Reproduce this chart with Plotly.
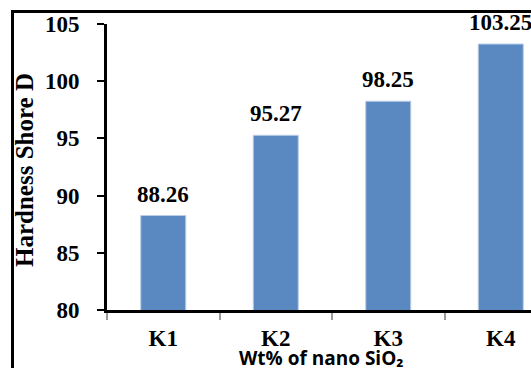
import plotly.graph_objects as go

# Hardness (Shore D) of samples K1–K4 with increasing nano SiO2 content
samples = ["K1", "K2", "K3", "K4"]
hardness = [88.26, 95.27, 98.25, 103.25]
y_ticks = [80, 85, 90, 95, 100, 105]

W, H = 531, 368
ML, MR, MT, MB = 107, 0, 24, 58
plot_w = W - ML - MR
plot_h = H - MT - MB


def px_to_paper_x(px):
    return (px - ML) / plot_w


def px_to_paper_y(py):
    return (H - MB - py) / plot_h


serif = "Liberation Serif, Times New Roman, serif"
bar_blue = "#5a89c2"

fig = go.Figure()
fig.add_trace(go.Bar(
    x=samples,
    y=hardness,
    width=0.4,
    marker=dict(color=bar_blue, line=dict(color="#b9cde6", width=1)),
    hoverinfo="x+y",
))

# value labels above each bar
for s, v in zip(samples, hardness):
    fig.add_annotation(
        x=s, y=v, text=f"<b>{v:.2f}</b>", showarrow=False,
        yanchor="bottom", yshift=7,
        font=dict(family=serif, size=23, color="black"),
    )

# axis titles
fig.add_annotation(
    xref="paper", yref="paper",
    x=px_to_paper_x(321), y=px_to_paper_y(358),
    text="<b>Wt% of nano SiO₂</b>", showarrow=False,
    xanchor="center", yanchor="middle",
    font=dict(family="Open Sans, sans-serif", size=19, color="black"),
)
fig.add_annotation(
    xref="paper", yref="paper",
    x=px_to_paper_x(25), y=px_to_paper_y(170),
    text="<b>Hardness Shore D</b>", showarrow=False, textangle=-90,
    xanchor="center", yanchor="middle",
    font=dict(family=serif, size=25, color="black"),
)

# outer frame around the chart
fig.add_shape(
    type="rect", xref="paper", yref="paper",
    x0=px_to_paper_x(12.5), x1=px_to_paper_x(W + 40),
    y0=px_to_paper_y(H + 40), y1=px_to_paper_y(11.5),
    line=dict(color="black", width=3), fillcolor="rgba(0,0,0,0)",
    layer="above",
)

fig.update_layout(
    width=W, height=H,
    margin=dict(l=ML, r=MR, t=MT, b=MB, pad=0),
    paper_bgcolor="white", plot_bgcolor="white",
    showlegend=False,
    xaxis=dict(
        range=[-0.5, -0.5 + plot_w / 112.5],
        showline=True, linecolor="black", linewidth=3,
        ticks="outside", tickson="boundaries", ticklen=7, tickwidth=2,
        tickcolor="#9a9a9a",
        tickfont=dict(family=serif, size=23, color="black"),
        ticklabelstandoff=5,
        showgrid=False, zeroline=False, fixedrange=True,
    ),
    yaxis=dict(
        range=[80, 105],
        tickvals=y_ticks,
        ticktext=[f"<b>{t}</b>" for t in y_ticks],
        showline=True, linecolor="black", linewidth=3,
        ticks="outside", ticklen=7, tickwidth=1.5, tickcolor="black",
        tickfont=dict(family=serif, size=23, color="black"),
        ticklabelstandoff=13,
        showgrid=False, zeroline=False, fixedrange=True,
    ),
)
fig.update_xaxes(ticktext=[f"<b>{s}</b>" for s in samples], tickvals=samples)

fig.write_html("out.html")
